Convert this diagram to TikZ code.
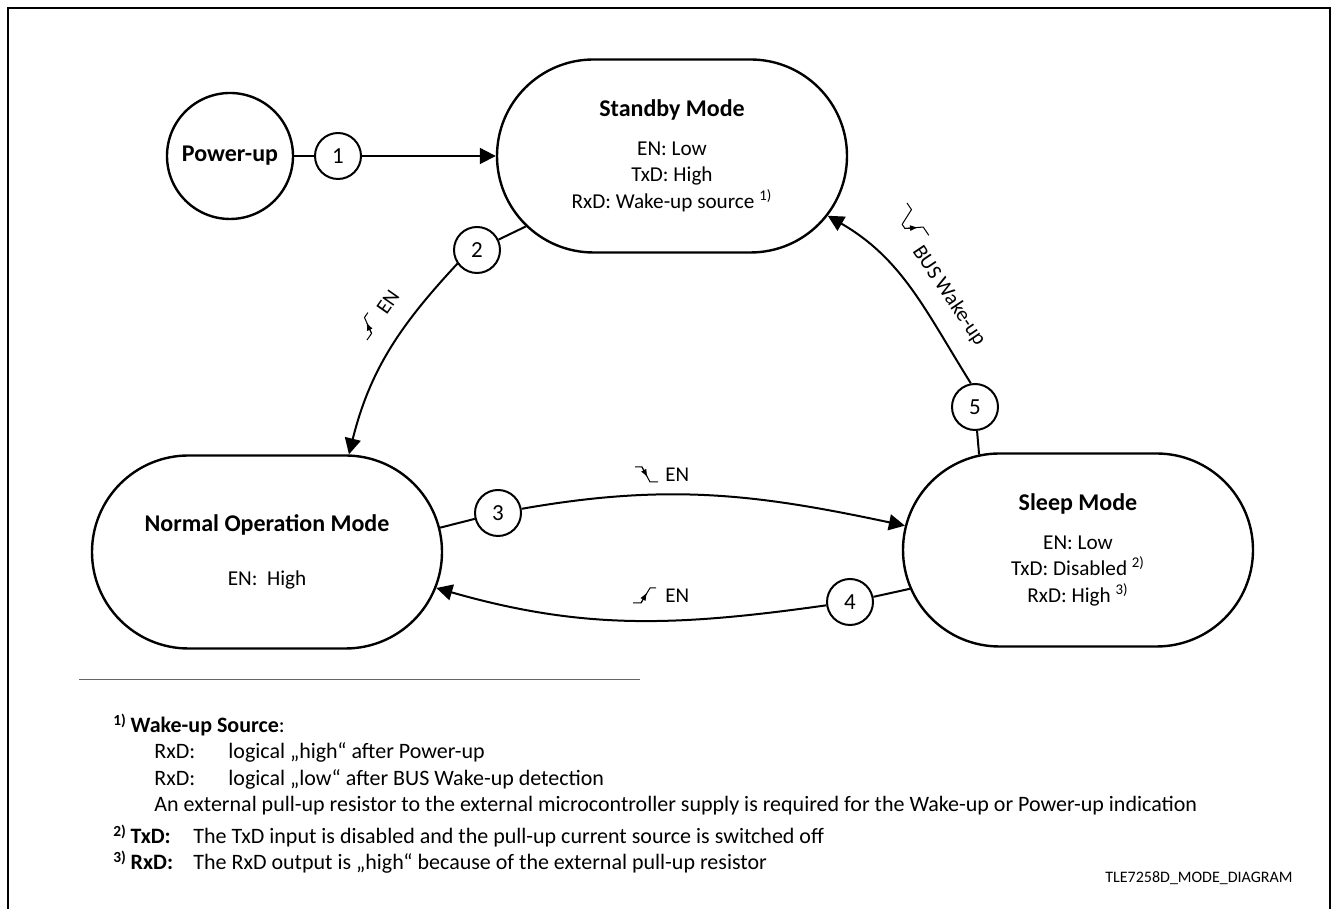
\documentclass[tikz,border=0pt]{standalone}
\usepackage{fontspec}
\setmainfont{Carlito}
\usepackage{tikz}
\usetikzlibrary{shapes.misc}
\usetikzlibrary{arrows.meta}

\tikzset{
	modebox/.style={draw, line width=1.2pt, rounded rectangle, minimum width=175pt,
		minimum height=96.5pt, inner sep=0pt, align=center, font=\fontsize{10.6}{13.25}\selectfont},
	numcirc/.style={draw, circle, line width=1pt, minimum size=23pt, inner sep=0pt,
		font=\fontsize{11.5}{13}\selectfont},
	trans/.style={line width=1pt},
	transarrow/.style={line width=1pt, -{Triangle[length=8pt,width=8pt]}},
	fntext/.style={anchor=base west, inner sep=0pt, font=\fontsize{11}{13}\selectfont},
	edgelbl/.style={inner sep=0pt, font=\fontsize{10.5}{12}\selectfont},
	glyph/.style={line width=0.5pt},
	rise edge/.pic={
		\draw[glyph] (0,0) -- (8,0) -- (17,15) -- (23,15);
		\draw[glyph, -{Latex[length=4pt,width=3pt]}] (8,0) -- (14,10.5);
	},
	fall edge/.pic={
		\draw[glyph] (0,15) -- (7,15) -- (15,0) -- (23,0);
		\draw[glyph, -{Latex[length=4pt,width=3pt]}] (7,15) -- (12.5,4.7);
	},
	wake pulse/.pic={
		\draw[glyph] (0,0) -- (8,0) -- (15,-16) -- (20,-16) -- (29,0) -- (39,0);
		\draw[glyph, -{Latex[length=4pt,width=3pt]}] (20,-16) -- (26.5,-4.5);
	}
}

\newcommand{\ttl}[1]{{\fontsize{12}{14}\selectfont\bfseries #1}}
\newcommand{\fnmark}[1]{\textsuperscript{\bfseries #1}\,}

\begin{document}
\begin{tikzpicture}[x=0.5pt, y=0.5pt]
	\useasboundingbox (0,0) rectangle (1333,909);

	% frame
	\draw[line width=0.7pt] (8,0) -- (8,901) -- (1330,901) -- (1330,0);

	% modes
	\node[draw, circle, line width=1.2pt, minimum size=63pt, inner sep=0pt,
		font=\fontsize{12}{14}\selectfont\bfseries] (pwr) at (230,753) {Power-up};
	\node[modebox] (stb) at (672,753) {\ttl{Standby Mode}\\[6pt]
		EN: Low\\ TxD: High\\ RxD: Wake-up source~\textsuperscript{1)}};
	\node[modebox] (nrm) at (267,357) {\ttl{Normal Operation Mode}\\[13.5pt] EN:\ \ High};
	\node[modebox] (slp) at (1078,359) {\ttl{Sleep Mode}\\[6pt]
		EN: Low\\ TxD: Disabled~\textsuperscript{2)}\\ RxD: High~\textsuperscript{3)}};

	% transition numbers
	\node[numcirc] (c1) at (338,753) {1};
	\node[numcirc] (c2) at (477,659) {2};
	\node[numcirc] (c3) at (498,396) {3};
	\node[numcirc] (c4) at (850,307) {4};
	\node[numcirc] (c5) at (975,502) {5};

	% transitions
	\draw[trans] (pwr) -- (c1);
	\draw[transarrow] (c1) -- (stb);
	\draw[trans] (stb) -- (c2);
	\draw[transarrow] (c2.215) to[out=227, in=76] (nrm.50);
	\draw[trans] (nrm.8) -- (c3);
	\draw[transarrow] (c3) to[out=10, in=168] (slp.172);
	\draw[trans] (slp.193) -- (c4);
	\draw[transarrow] (c4) to[out=188, in=-16] (nrm.-12);
	\draw[trans] (slp.136) -- (c5);
	\draw[transarrow] (c5.100) to[out=122, in=-30] (stb.-21);

	% transition labels
	\pic[rotate=55] at (367,569) {rise edge};
	\node[edgelbl, rotate=55] (lbl2) at (388,607) {EN};
	\pic at (635,427) {fall edge};
	\node[edgelbl, anchor=base west] (lbl3) at (665,427) {EN};
	\pic at (633,306) {rise edge};
	\node[edgelbl, anchor=base west] (lbl4) at (665,306) {EN};
	\pic[rotate=-56] at (907,706) {wake pulse};
	\node[edgelbl, rotate=-56] (lbl5) at (949,613) {BUS Wake-up};

	% footnotes
	\draw[gray!80!black, line width=0.5pt] (79,229) -- (640,229);
	\node[fntext] (fn1) at (113,176) {\fnmark{1)}\textbf{Wake-up Source}:};
	\node[fntext] (fn1a) at (154,150) {RxD:};
	\node[fntext] (fn1b) at (228,150) {logical „high“ after Power-up};
	\node[fntext] (fn1c) at (154,123) {RxD:};
	\node[fntext] (fn1d) at (228,123) {logical „low“ after BUS Wake-up detection};
	\node[fntext] (fn1e) at (154,97) {An external pull-up resistor to the external microcontroller supply is required for the Wake-up or Power-up indication};
	\node[fntext] (fn2) at (113,65) {\fnmark{2)}\textbf{TxD:}};
	\node[fntext] (fn2a) at (193,65) {The TxD input is disabled and the pull-up current source is switched off};
	\node[fntext] (fn3) at (113,39) {\fnmark{3)}\textbf{RxD:}};
	\node[fntext] (fn3a) at (193,39) {The RxD output is „high“ because of the external pull-up resistor};
	\node[fntext, anchor=base east, font=\fontsize{8}{10}\selectfont] (fig) at (1293,26) {TLE7258D\_MODE\_DIAGRAM};
\end{tikzpicture}
\end{document}
